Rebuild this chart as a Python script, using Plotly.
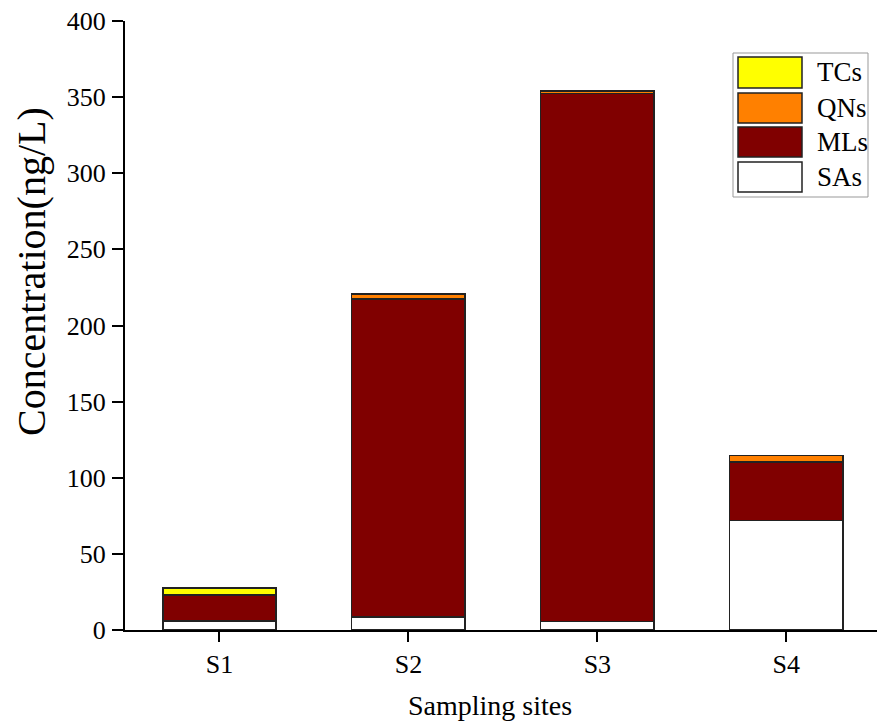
import plotly.graph_objects as go

sites = ["S1", "S2", "S3", "S4"]
SAs = [6, 8.5, 5.5, 72]
MLs = [16.5, 209, 347, 38.5]
QNs = [0.5, 3.3, 1.5, 4]
TCs = [4.5, 0, 0, 0]

series = [("SAs", SAs, "#FFFFFF"), ("MLs", MLs, "#800000"),
          ("QNs", QNs, "#FF8000"), ("TCs", TCs, "#FFFF00")]

FONT = "Liberation Serif, Times New Roman, serif"

fig = go.Figure()
for name, vals, col in series:
    fig.add_trace(go.Bar(x=sites, y=vals, name=name, marker_color=col,
                         marker_line_color="#222222", marker_line_width=1.5,
                         width=0.6, showlegend=False))

# manual legend with large swatches (order: TCs, QNs, MLs, SAs)
fig.add_shape(type="rect", xref="paper", yref="paper",
              x0=(733 - 125) / 752, x1=(868 - 125) / 752,
              y0=(630 - 197) / 609, y1=(630 - 53) / 609,
              line=dict(color="#999999", width=1), fillcolor="white")
rows = [(57, 88), (93, 123), (127, 157), (162, 192)]
for (name, vals, col), (ya, yb) in zip(series[::-1], rows):
    fig.add_shape(type="rect", xref="paper", yref="paper",
                  x0=(738 - 125) / 752, x1=(802 - 125) / 752,
                  y0=(630 - yb) / 609, y1=(630 - ya) / 609,
                  line=dict(color="#222222", width=1.5), fillcolor=col)
    fig.add_annotation(xref="paper", yref="paper", x=(815 - 125) / 752,
                       y=(630 - (ya + yb) / 2) / 609, text=name, showarrow=False,
                       xanchor="left", yanchor="middle",
                       font=dict(family=FONT, size=27, color="black"))

# axis titles
fig.add_annotation(xref="paper", yref="paper", x=(31 - 125) / 752,
                   y=(630 - 272) / 609, text="Concentration(ng/L)", textangle=-90,
                   showarrow=False, xanchor="center", yanchor="middle",
                   font=dict(family=FONT, size=40, color="black"))
fig.add_annotation(xref="paper", yref="paper", x=(490 - 125) / 752,
                   y=(630 - 705) / 609, text="Sampling sites",
                   showarrow=False, xanchor="center", yanchor="middle",
                   font=dict(family=FONT, size=28, color="black"))

fig.update_layout(
    width=877, height=725, barmode="stack",
    margin=dict(l=125, r=0, t=21, b=95),
    plot_bgcolor="white", paper_bgcolor="white",
    font=dict(family=FONT, color="black"),
    xaxis=dict(range=[-0.5, 3.48], showline=True, linecolor="black", linewidth=2,
               ticks="outside", ticklen=10, tickwidth=2, tickcolor="black",
               tickfont=dict(size=26), ticklabelstandoff=0),
    yaxis=dict(range=[0, 400], dtick=50, showline=True, linecolor="black", linewidth=2,
               ticks="outside", ticklen=11, tickwidth=2, tickcolor="black",
               showgrid=False, zeroline=False, tickfont=dict(size=26),
               ticklabelstandoff=1),
)

fig.write_html("out.html")
